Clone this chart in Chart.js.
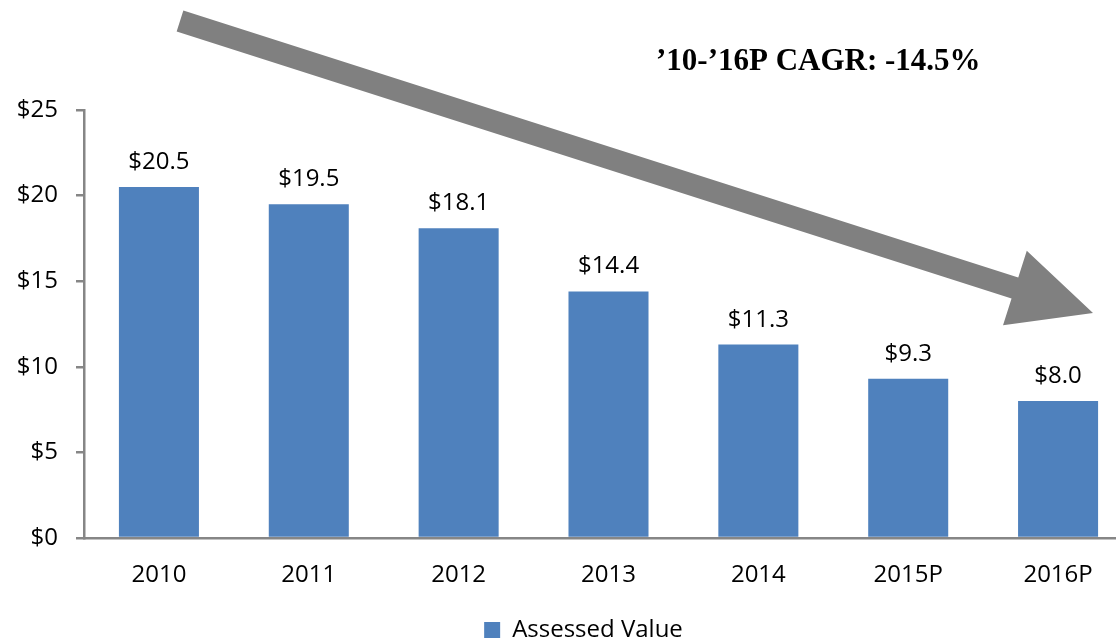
<!DOCTYPE html>
<html>
<head>
<meta charset="utf-8">
<title>Assessed Value</title>
<script src="https://cdn.jsdelivr.net/npm/chart.js@4/dist/chart.umd.min.js"></script>
<style>
    html, body { margin: 0; padding: 0; background: #fff; overflow: hidden; }
    #chart { display: block; }
</style>
</head>
<body>
<canvas id="chart" width="1133" height="641"></canvas>
<script>
// Datos del gráfico
const years = ['2010', '2011', '2012', '2013', '2014', '2015P', '2016P'];
const assessedValue = [20.5, 19.5, 18.1, 14.4, 11.3, 9.3, 8.0];
const yTicks = [0, 5, 10, 15, 20, 25];
const seriesName = 'Assessed Value';
const cagrText = '\u201910-\u201916P CAGR: -14.5%';

const FONT = '"Open Sans", "Noto Sans", sans-serif';
const BAR_COLOR = '#4F81BD';
const AXIS_COLOR = '#868686';

// Etiquetas encima de cada barra
const barLabels = {
    id: 'barLabels',
    afterDatasetsDraw(chart) {
        const ctx = chart.ctx;
        const meta = chart.getDatasetMeta(0);
        ctx.save();
        ctx.font = '24px ' + FONT;
        ctx.fillStyle = '#000';
        ctx.textAlign = 'center';
        ctx.textBaseline = 'alphabetic';
        meta.data.forEach((bar, i) => {
            ctx.fillText('$' + assessedValue[i].toFixed(1), bar.x, bar.y - 18);
        });
        ctx.restore();
    }
};

// Mover la leyenda un poco (a la derecha y hacia abajo)
const legendShift = {
    id: 'legendShift',
    afterLayout(chart) {
        const lg = chart.legend;
        if (!lg) return;
        lg.left += 17; lg.right += 17;
        lg.top += 13; lg.bottom += 13;
    }
};

// Flecha gris y texto del CAGR
const trendArrow = {
    id: 'trendArrow',
    afterDraw(chart) {
        const ctx = chart.ctx;
        const tail = { x: 180, y: 21 };
        const tip = { x: 1093, y: 313 };
        const shaftHalf = 11, headHalf = 39, headLen = 82;

        const dx = tip.x - tail.x, dy = tip.y - tail.y;
        const len = Math.hypot(dx, dy);
        const ux = dx / len, uy = dy / len;
        const px = -uy, py = ux;
        const bx = tip.x - ux * headLen, by = tip.y - uy * headLen;

        ctx.save();
        ctx.fillStyle = '#808080';
        ctx.beginPath();
        ctx.moveTo(tail.x + px * shaftHalf, tail.y + py * shaftHalf);
        ctx.lineTo(bx + px * shaftHalf, by + py * shaftHalf);
        ctx.lineTo(bx + px * headHalf, by + py * headHalf);
        ctx.lineTo(tip.x, tip.y);
        ctx.lineTo(bx - px * headHalf, by - py * headHalf);
        ctx.lineTo(bx - px * shaftHalf, by - py * shaftHalf);
        ctx.lineTo(tail.x - px * shaftHalf, tail.y - py * shaftHalf);
        ctx.closePath();
        ctx.fill();

        ctx.fillStyle = '#000';
        ctx.font = 'bold 31px "Liberation Serif", "DejaVu Serif", serif';
        ctx.textAlign = 'left';
        ctx.textBaseline = 'alphabetic';
        ctx.fillText(cagrText, 656, 70);
        ctx.restore();
    }
};

const chart = new Chart(document.getElementById('chart'), {
    type: 'bar',
    data: {
        labels: years,
        datasets: [{
            label: seriesName,
            data: assessedValue,
            backgroundColor: BAR_COLOR,
            borderWidth: 0,
            categoryPercentage: 0.534,
            barPercentage: 1
        }]
    },
    options: {
        responsive: false,
        devicePixelRatio: 1,
        animation: false,
        layout: {
            padding: { top: 110, left: 0, right: 0, bottom: 2 }
        },
        plugins: {
            legend: {
                position: 'bottom',
                labels: {
                    font: { family: FONT, size: 24 },
                    color: '#000',
                    boxWidth: 16,
                    boxHeight: 16,
                    padding: 6
                }
            },
            tooltip: { enabled: false }
        },
        scales: {
            x: {
                afterFit(scale) { scale.height = 61; },
                grid: { display: false, drawTicks: false },
                border: { display: true, color: AXIS_COLOR, width: 2.5 },
                ticks: {
                    font: { family: FONT, size: 24 },
                    color: '#000',
                    padding: 23
                }
            },
            y: {
                min: 0,
                max: 25,
                afterFit(scale) { scale.width = 84; },
                afterBuildTicks(scale) {
                    scale.ticks = yTicks.map(v => ({ value: v }));
                },
                grid: {
                    drawOnChartArea: false,
                    drawTicks: true,
                    tickLength: 8,
                    color: AXIS_COLOR,
                    lineWidth: 2.5
                },
                border: { display: true, color: AXIS_COLOR, width: 2.5 },
                ticks: {
                    font: { family: FONT, size: 24 },
                    color: '#000',
                    padding: 18,
                    callback: v => '$' + v
                }
            }
        }
    },
    plugins: [barLabels, legendShift, trendArrow]
});
</script>
</body>
</html>
